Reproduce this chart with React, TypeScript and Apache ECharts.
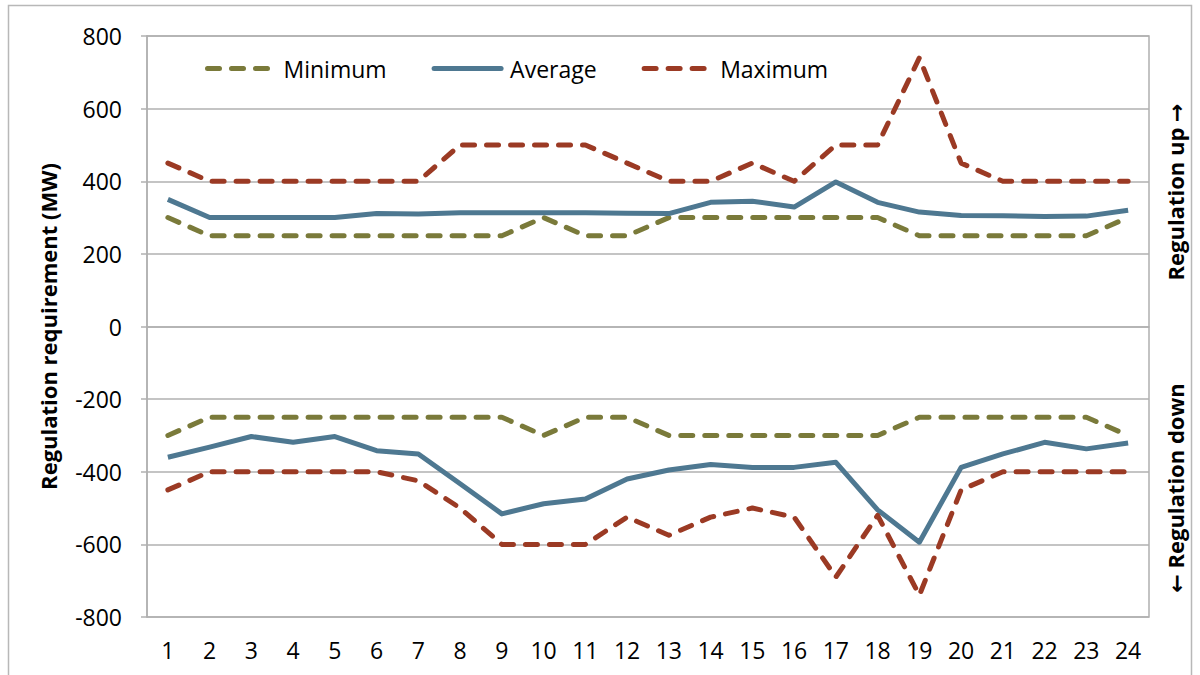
import React, { useEffect, useRef } from "react";
import * as echarts from "echarts";

const hours = ["1","2","3","4","5","6","7","8","9","10","11","12","13","14","15","16","17","18","19","20","21","22","23","24"];

const minUp = [300,250,250,250,250,250,250,250,250,300,250,250,300,300,300,300,300,300,250,250,250,250,250,300];
const avgUp = [350,300,300,300,300,311,310,313,313,313,313,312,311,342,345,329,398,342,315,306,305,303,304,320];
const maxUp = [450,400,400,400,400,400,400,500,500,500,500,450,400,400,450,400,500,500,740,450,400,400,400,400];

const minDown = [-300,-250,-250,-250,-250,-250,-250,-250,-250,-300,-250,-250,-300,-300,-300,-300,-300,-300,-250,-250,-250,-250,-250,-300];
const avgDown = [-360,-332,-303,-319,-303,-342,-351,-433,-516,-488,-475,-420,-395,-380,-388,-388,-374,-505,-594,-388,-351,-319,-337,-321];
const maxDown = [-450,-400,-400,-400,-400,-400,-425,-500,-600,-600,-600,-525,-575,-525,-500,-525,-690,-520,-740,-450,-400,-400,-400,-400];

const legendNames = ["Minimum", "Average", "Maximum"];
const yTitle = "Regulation requirement (MW)";
const upTitle = "Regulation up \u2192";
const downTitle = "\u2190 Regulation down";

const C_MIN = "#7a7a3a";
const C_AVG = "#4e7891";
const C_MAX = "#9b3a24";
const FONT = "'Open Sans', 'DejaVu Sans', sans-serif";

export default function App() {
  const ref = useRef<HTMLDivElement>(null);
  useEffect(() => {
    if (!ref.current) return;
    const chart = echarts.init(ref.current, null, { renderer: "svg" });
    const mk = (name: string, data: number[], color: string, dashed: boolean) => ({
      name,
      type: "line",
      data,
      symbol: "none",
      showSymbol: false,
      lineStyle: {
        color,
        width: 5,
        type: dashed ? [12, 12] : "solid",
        cap: dashed ? "round" : "butt",
        join: "round",
      },
      itemStyle: { color },
      emphasis: { disabled: true },
    });
    chart.setOption({
      animation: false,
      textStyle: { fontFamily: FONT },
      grid: {
        left: 147,
        right: 51,
        top: 36,
        bottom: 58,
        show: true,
        borderColor: "#b0b0b0",
        borderWidth: 1.5,
      },
      legend: {
        data: legendNames,
        left: 200,
        top: 52,
        itemWidth: 67,
        itemHeight: 14,
        itemGap: 45,
        itemStyle: { opacity: 0 },
        lineStyle: { width: 5, cap: "round" },
        textStyle: { fontSize: 23, color: "#000", fontFamily: FONT, padding: [0, 0, 0, 4] },
      },
      xAxis: {
        type: "category",
        data: hours,
        boundaryGap: true,
        axisLine: { lineStyle: { color: "#b0b0b0", width: 1.5 } },
        axisTick: { show: false },
        axisLabel: { fontSize: 23, color: "#000", margin: 21, fontFamily: FONT },
        splitLine: { show: false },
      },
      yAxis: {
        type: "value",
        min: -800,
        max: 800,
        interval: 200,
        name: yTitle,
        nameLocation: "middle",
        nameRotate: 90,
        nameGap: 88,
        nameTextStyle: { fontSize: 22, fontWeight: "bold", color: "#000", fontFamily: FONT },
        axisLine: { show: true, lineStyle: { color: "#b0b0b0", width: 1.5 } },
        axisTick: { show: true, length: 6, lineStyle: { color: "#b0b0b0", width: 1.5 } },
        axisLabel: { fontSize: 23, color: "#000", margin: 25, fontFamily: FONT },
        splitLine: { show: true, lineStyle: { color: "#b0b0b0", width: 1.5 } },
      },
      graphic: [
        {
          type: "rect",
          shape: { x: 8.5, y: 5.5, width: 1183, height: 720 },
          style: { fill: "none", stroke: "#b8b8b8", lineWidth: 1.5 },
          silent: true,
          z: -10,
        },
        {
          type: "text",
          x: 1175,
          y: 192,
          rotation: Math.PI / 2,
          style: {
            text: upTitle,
            fontSize: 22,
            fontWeight: "bold",
            fill: "#000",
            fontFamily: FONT,
            textAlign: "center",
            textVerticalAlign: "middle",
          },
        },
        {
          type: "text",
          x: 1175,
          y: 488,
          rotation: Math.PI / 2,
          style: {
            text: downTitle,
            fontSize: 22,
            fontWeight: "bold",
            fill: "#000",
            fontFamily: FONT,
            textAlign: "center",
            textVerticalAlign: "middle",
          },
        },
      ],
      series: [
        mk("Minimum", minUp, C_MIN, true),
        mk("Average", avgUp, C_AVG, false),
        mk("Maximum", maxUp, C_MAX, true),
        mk("Minimum", minDown, C_MIN, true),
        mk("Average", avgDown, C_AVG, false),
        mk("Maximum", maxDown, C_MAX, true),
      ],
    });
    return () => chart.dispose();
  }, []);
  return (
    <div
      ref={ref}
      style={{ position: "fixed", left: 0, top: 0, width: 1200, height: 675, background: "#fff" }}
    />
  );
}
